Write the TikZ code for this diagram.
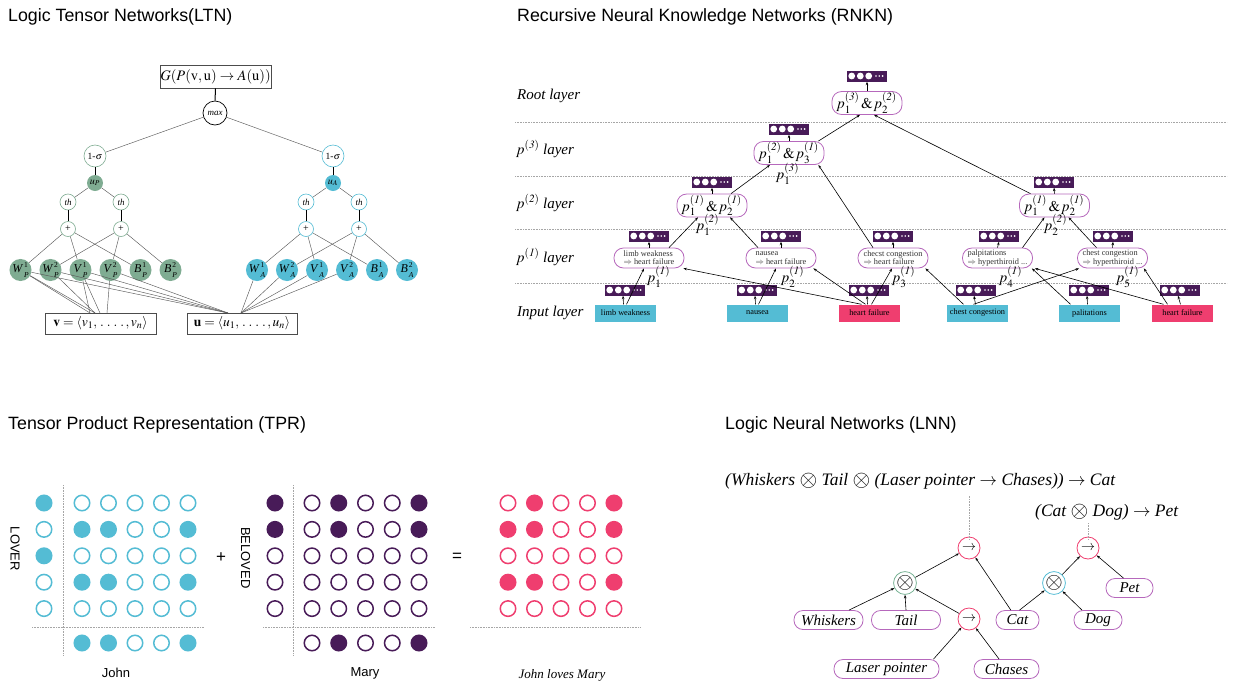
\documentclass[tikz,border=0pt]{standalone}
\usepackage{mathptmx}
\usepackage{fontspec}
\setmainfont{Liberation Serif}
\setsansfont{Liberation Sans}
\usetikzlibrary{arrows.meta,calc}
\definecolor{ltngreen}{RGB}{127,172,146}
\definecolor{ltnblue}{RGB}{84,188,212}
\definecolor{rpink}{RGB}{239,62,111}
\definecolor{dpurple}{RGB}{72,27,88}
\definecolor{lpurple}{RGB}{182,104,188}
\definecolor{wh}{RGB}{255,255,255}
\definecolor{lnngreen}{RGB}{120,178,148}
\newcommand{\myfs}[1]{\fontsize{#1}{#1}\selectfont}
\newcommand{\bigox}{\mathbin{\vcenter{\hbox{\scalebox{1.3}{$\otimes$}}}}}
\newcommand{\circox}{\vcenter{\hbox{\scalebox{1.6}{$\otimes$}}}}
\newcommand{\pp}[2]{\mathit{p}_{#1}^{\mathit{(#2)}}}
\newcommand{\wsym}[3]{\textit{#1}\kern0.8pt\rlap{\raisebox{5.5pt}{\myfs{7.5}#2}}\raisebox{-4.5pt}{\myfs{7.5}\textit{#3}}}
\begin{document}
\begin{tikzpicture}[x=1pt,y=-1pt,
  title/.style={font=\sffamily\myfs{17.8}, anchor=west, inner sep=0pt},
  arr/.style={-{Stealth[length=3.5pt,width=2.6pt]}, line width=0.6pt},
  grayln/.style={draw=black!65, line width=0.45pt},
  boldln/.style={draw=black, line width=1pt},
  sig/.style={circle, draw=#1, fill=white, line width=0.6pt, minimum size=22pt, inner sep=0pt, font=\myfs{9.5}},
  ufill/.style={circle, fill=#1, minimum size=16pt, inner sep=0pt, font=\myfs{10}},
  thnode/.style={circle, draw=#1, fill=white, line width=0.6pt, minimum size=16pt, inner sep=0pt, font=\myfs{9}\itshape},
  plnode/.style={circle, draw=#1, fill=white, line width=0.6pt, minimum size=15pt, inner sep=0pt, font=\myfs{10}},
  wnode/.style={circle, fill=#1, minimum size=22pt, inner sep=0pt, font=\myfs{12}},
  ltnbox/.style={draw=black!70, line width=0.6pt, fill=white, inner sep=0pt, minimum height=21pt},
  layer/.style={font=\myfs{15}\itshape, anchor=west, inner sep=0pt},
  dotln/.style={draw=black!35, densely dotted, line width=0.6pt},
  inbox/.style={fill=#1, minimum width=61pt, minimum height=17pt, inner sep=0pt, font=\myfs{8.3}},
  vecbox/.style={fill=dpurple, minimum width=40pt, minimum height=11pt, inner sep=0pt,
    path picture={
      \foreach \dx in {4.7,13.3,21.7} \fill[white] ([xshift=\dx pt]path picture bounding box.west) circle (3.4pt);
      \foreach \dx in {29,32.3,35.6} \fill[white] ([xshift=\dx pt]path picture bounding box.west) circle (0.9pt);
    }},
  rbox/.style={draw=lpurple, line width=0.8pt, rounded corners=9.5pt, fill=white, minimum width=70pt, minimum height=20pt, inner sep=1pt},
  small/.style={font=\myfs{8.3}, align=left, text=black!80, inner sep=0.5pt},
  plab/.style={font=\myfs{15}, inner sep=0pt},
  cell/.style 2 args={circle, draw=#1, fill=#2, line width=1.5pt, minimum size=15.5pt, inner sep=0pt},
  opn/.style={circle, draw=#1, line width=0.8pt, minimum size=22pt, inner sep=0pt, font=\myfs{14}},
  lbox/.style={draw=lpurple, line width=0.8pt, rounded corners=9pt, minimum height=19pt, inner sep=1pt, font=\myfs{15}\itshape},
]
\useasboundingbox (0,0) rectangle (1235,686);

% ================= titles =================
\node[title] (t1) at (8,17) {Logic Tensor Networks(LTN)};
\node[title] (t2) at (517,17) {Recursive Neural Knowledge Networks (RNKN)};
\node[title] (t3) at (8,425) {Tensor Product Representation (TPR)};
\node[title] (t4) at (725,425) {Logic Neural Networks (LNN)};

% ================= LTN =================
\node[ltnbox, minimum width=111pt, minimum height=23pt, font=\myfs{14.5}] (G) at (215.5,76.5) {$\mathit{G}(\mathit{P}(\mathrm{v,u}) \rightarrow \mathit{A}(\mathrm{u}))$};
\node[circle, draw, line width=0.7pt, minimum size=24pt, inner sep=0pt, font=\myfs{9}\itshape] (max) at (215,113) {max};
\draw[boldln] (G) -- (max);
\node[sig=ltngreen] (sP) at (95,156) {1-$\sigma$};
\node[sig=ltnblue] (sA) at (333,156) {1-$\sigma$};
\draw[grayln] (max) -- (sP);
\draw[grayln] (max) -- (sA);
\node[ufill=ltngreen] (uP) at (95,183) {$\mathit{u}_{\mathit{P}}$};
\node[ufill=ltnblue] (uA) at (333,183) {$\mathit{u}_{\mathit{A}}$};
\draw[boldln] (sP) -- (uP);
\draw[boldln] (sA) -- (uA);
\node[thnode=ltngreen] (thP1) at (68,202) {th};
\node[thnode=ltngreen] (thP2) at (121,202) {th};
\node[thnode=ltnblue] (thA1) at (306,202) {th};
\node[thnode=ltnblue] (thA2) at (359,202) {th};
\draw[grayln] (uP) -- (thP1); \draw[grayln] (uP) -- (thP2);
\draw[grayln] (uA) -- (thA1); \draw[grayln] (uA) -- (thA2);
\node[plnode=ltngreen] (plP1) at (68,229) {+};
\node[plnode=ltngreen] (plP2) at (121,229) {+};
\node[plnode=ltnblue] (plA1) at (306,229) {+};
\node[plnode=ltnblue] (plA2) at (359,229) {+};
\draw[boldln] (thP1) -- (plP1); \draw[boldln] (thP2) -- (plP2);
\draw[boldln] (thA1) -- (plA1); \draw[boldln] (thA2) -- (plA2);
\node[wnode=ltngreen] (WP1) at (20.5,270) {\wsym{W}{1}{P}};
\node[wnode=ltngreen] (WP2) at (50.5,270) {\wsym{W}{2}{P}};
\node[wnode=ltngreen] (VP1) at (80.5,270) {\wsym{V}{1}{P}};
\node[wnode=ltngreen] (VP2) at (110.5,270) {\wsym{V}{2}{P}};
\node[wnode=ltngreen] (BP1) at (140.5,270) {\wsym{B}{1}{P}};
\node[wnode=ltngreen] (BP2) at (170.5,270) {\wsym{B}{2}{P}};
\node[wnode=ltnblue] (WA1) at (257,270) {\wsym{W}{1}{A}};
\node[wnode=ltnblue] (WA2) at (287,270) {\wsym{W}{2}{A}};
\node[wnode=ltnblue] (VA1) at (317,270) {\wsym{V}{1}{A}};
\node[wnode=ltnblue] (VA2) at (347,270) {\wsym{V}{2}{A}};
\node[wnode=ltnblue] (BA1) at (377,270) {\wsym{B}{1}{A}};
\node[wnode=ltnblue] (BA2) at (407,270) {\wsym{B}{2}{A}};
\foreach \a/\b in {plP1/WP1,plP1/VP1,plP1/BP1,plP2/WP2,plP2/VP2,plP2/BP2,
                   plA1/WA1,plA1/VA1,plA1/BA1,plA2/WA2,plA2/VA2,plA2/BA2}
  \draw[grayln] (\a) -- (\b);
\node[ltnbox, minimum width=111pt, font=\myfs{13.5}] (vbox) at (100.5,323.5) {$\mathbf{v} = \langle \mathit{v}_{1},\, .\; .\; .\; .\,, \mathit{v}_{\mathit{n}}\rangle$};
\node[ltnbox, minimum width=110pt, font=\myfs{13.5}] (ubox) at (242,323.5) {$\mathbf{u} = \langle \mathit{u}_{1},\, .\; .\; .\; .\,, \mathit{u}_{\mathit{n}}\rangle$};
\coordinate (vA) at (90,313);
\coordinate (vB) at (95,313);
\coordinate (vC) at (100,313);
\coordinate (vD) at (107,313);
\coordinate (uPc) at (228,313);
\coordinate (uAc) at (241,313);
\draw[grayln] (WP1) -- (vA); \draw[grayln] (WP2) -- (vB);
\draw[grayln] (VP1) -- (vC); \draw[grayln] (VP2) -- (vD);
\draw[grayln] (WP1) -- (vB); \draw[grayln] (VP1) -- (vA);
\foreach \n in {WP1,WP2,VP1,VP2} \draw[grayln] (\n) -- (uPc);
\foreach \n in {WA1,WA2,VA1,VA2} \draw[grayln] (\n) -- (uAc);

% ================= RNKN =================
\node[layer] (Lr) at (517,96) {Root layer};
\node[layer] (L3) at (517,149) {$\mathit{p}^{\mathit{(3)}}$ layer};
\node[layer] (L2) at (517,203) {$\mathit{p}^{\mathit{(2)}}$ layer};
\node[layer] (L1) at (517,257) {$\mathit{p}^{\mathit{(1)}}$ layer};
\node[layer] (L0) at (517,313) {Input layer};
\foreach \yy in {122,176,229.5,283.5} \draw[dotln] (515,\yy) -- (1227,\yy);

% inputs
\node[inbox=ltnblue] (i1) at (625.5,313) {limb weakness};
\node[inbox=ltnblue] (i2) at (757.5,313) {nausea};
\node[inbox=rpink]   (i3) at (869.5,313) {heart failure};
\node[inbox=ltnblue] (i4) at (977.5,313) {chest congestion};
\node[inbox=ltnblue] (i5) at (1089.5,313) {palitations};
\node[inbox=rpink]   (i6) at (1182.5,313) {heart failure};
\node[vecbox] (iv1) at (625,290) {};
\node[vecbox] (iv2) at (757,290) {};
\node[vecbox] (iv3) at (869,290) {};
\node[vecbox] (iv4) at (976,290) {};
\node[vecbox] (iv5) at (1089,290) {};
\node[vecbox] (iv6) at (1180,290) {};
\foreach \k in {1,...,6} \draw[arr] ([xshift=-2pt]i\k.north) -- ([xshift=-2pt]iv\k.south);

% p1 layer
\node[rbox, small] (e1) at (649,258) {limb weakness\\$\Rightarrow$ heart failure};
\node[rbox, small] (e2) at (781,258) {nausea\\$\Rightarrow$ heart failure};
\node[rbox, small] (e3) at (893,258) {checst congestion\\$\Rightarrow$ heart failure};
\node[rbox, small] (e4) at (997.5,258) {palpitations\\$\Rightarrow$ hyperthiroid ...};
\node[rbox, small] (e5) at (1112.5,258) {chest congestion\\$\Rightarrow$ hyperthiroid ...};
\node[vecbox] (ev1) at (649,236) {};
\node[vecbox] (ev2) at (781,236) {};
\node[vecbox] (ev3) at (893,236) {};
\node[vecbox] (ev4) at (999,236) {};
\node[vecbox] (ev5) at (1113,236) {};
\foreach \k in {1,...,5} \draw[arr] (e\k.north) -- (ev\k.south);
\node[plab] (pl1) at (659,277) {$\pp{1}{1}$};
\node[plab] (pl2) at (793,277) {$\pp{2}{1}$};
\node[plab] (pl3) at (904,277) {$\pp{3}{1}$};
\node[plab] (pl4) at (1011,277) {$\pp{4}{1}$};
\node[plab] (pl5) at (1128,277) {$\pp{5}{1}$};
\draw[arr] ([xshift=1pt]i1.north) -- ([xshift=-5pt]e1.south);
\draw[arr] ([xshift=-8pt]i3.north) -- ([xshift=-1pt]e1.south east);
\draw[arr] ([xshift=1pt]i2.north) -- ([xshift=-5pt]e2.south);
\draw[arr] ([xshift=-4pt]i3.north) -- ([xshift=-3pt]e2.south east);
\draw[arr] ([xshift=2pt]i3.north) -- ([xshift=-1pt]e3.south);
\draw[arr] ([xshift=-14pt]i4.north) -- ([xshift=-3pt]e3.south east);
\draw[arr] ([xshift=-4pt]i4.north) -- ([xshift=2pt]e5.south west);
\draw[arr] ([xshift=-19pt]i5.north) -- ([xshift=-1pt]e4.south east);
\draw[arr] ([xshift=-19pt]i6.north) -- ([xshift=2pt]e4.south east);
\draw[arr] ([xshift=-15pt]i6.north) -- ([xshift=-4pt]e5.south east);

% p2 layer
\node[rbox, font=\myfs{15}, minimum height=21pt] (f1) at (712,205.5) {$\pp{1}{1} \,\&\, \pp{2}{1}$};
\node[rbox, font=\myfs{15}, minimum height=21pt] (f2) at (1054.5,205.5) {$\pp{1}{1} \,\&\, \pp{2}{1}$};
\node[vecbox] (fv1) at (712,182) {};
\node[vecbox] (fv2) at (1054,182) {};
\draw[arr] (f1.north) -- (fv1.south);
\draw[arr] (f2.north) -- (fv2.south);
\node[plab] (ql1) at (708,225) {$\pp{1}{2}$};
\node[plab] (ql2) at (1056,225) {$\pp{2}{2}$};
\draw[arr] ([xshift=20pt]e1.north) -- ([xshift=-14pt]f1.south);
\draw[arr] ([xshift=-23pt]e2.north) -- ([xshift=18pt]f1.south);
\draw[arr] ([xshift=25pt]e4.north) -- ([xshift=-10pt]f2.south);
\draw[arr] ([xshift=-16pt]e5.north) -- ([xshift=14pt]f2.south);

% p3 layer
\node[rbox, font=\myfs{15}] (g1) at (789,153) {$\pp{1}{2} \,\&\, \pp{3}{1}$};
\node[vecbox] (gv1) at (789,129) {};
\draw[arr] (g1.north) -- (gv1.south);
\node[plab] (rl1) at (788,174) {$\pp{1}{3}$};
\draw[arr] ([xshift=19pt]f1.north) -- ([xshift=-19pt]g1.south);
\draw[arr] ([xshift=-20pt]e3.north) -- ([xshift=-6pt]g1.south east);

% root
\node[rbox, font=\myfs{15}] (h1) at (867,103) {$\pp{1}{3} \,\&\, \pp{2}{2}$};
\node[vecbox] (hv1) at (867,76) {};
\draw[arr] (h1.north) -- (hv1.south);
\draw[arr] ([xshift=-6pt]g1.north east) -- ([xshift=-7pt]h1.south);
\draw[arr] ([xshift=-24pt]f2.north) -- ([xshift=7pt]h1.south);

% ================= TPR =================
% John
\foreach \r/\a/\b/\c/\d/\e in {1/wh/wh/wh/wh/wh, 2/ltnblue/ltnblue/wh/wh/ltnblue, 3/wh/wh/wh/wh/wh, 4/ltnblue/ltnblue/wh/wh/ltnblue, 5/wh/wh/wh/wh/wh}{
  \foreach \k/\f in {1/\a,2/\b,3/\c,4/\d,5/\e}{
    \node[cell={ltnblue}{\f}] (J\r\k) at ({82+(\k-1)*26.5},{503+(\r-1)*26.4}) {};
  }
}
\foreach \r/\f in {1/ltnblue,2/wh,3/ltnblue,4/wh,5/wh}
  \node[cell={ltnblue}{\f}] (JL\r) at (44,{503+(\r-1)*26.4}) {};
\foreach \k/\f in {1/ltnblue,2/ltnblue,3/wh,4/wh,5/ltnblue}
  \node[cell={ltnblue}{\f}] (JB\k) at ({82+(\k-1)*26.5},643) {};
\draw[dotln] (63,485) -- (63,655);
\draw[dotln] (32,627) -- (204,627);
\node[font=\sffamily\myfs{13}, rotate=-90] (lover) at (15,549) {LOVER};
\node[font=\sffamily\myfs{13}] (john) at (116,673) {John};
\node[font=\sffamily\myfs{17}] (plus) at (221,558) {+};

% Mary
\foreach \r/\a/\b/\c/\d/\e in {1/wh/dpurple/wh/wh/dpurple, 2/wh/dpurple/wh/wh/dpurple, 3/wh/wh/wh/wh/wh, 4/wh/wh/wh/wh/wh, 5/wh/wh/wh/wh/wh}{
  \foreach \k/\f in {1/\a,2/\b,3/\c,4/\d,5/\e}{
    \node[cell={dpurple}{\f}] (M\r\k) at ({312+(\k-1)*26.75},{503+(\r-1)*26.4}) {};
  }
}
\foreach \r/\f in {1/dpurple,2/dpurple,3/wh,4/wh,5/wh}
  \node[cell={dpurple}{\f}] (ML\r) at (275,{503+(\r-1)*26.4}) {};
\foreach \k/\f in {1/wh,2/dpurple,3/wh,4/wh,5/dpurple}
  \node[cell={dpurple}{\f}] (MB\k) at ({312+(\k-1)*26.75},643) {};
\draw[dotln] (293,485) -- (293,655);
\draw[dotln] (263,627) -- (435,627);
\node[font=\sffamily\myfs{13}, rotate=-90] (beloved) at (245.5,558) {BELOVED};
\node[font=\sffamily\myfs{13}] (mary) at (365,673) {Mary};
\node[font=\sffamily\myfs{17}] (eq) at (457,557) {=};

% Result
\foreach \r/\a/\b/\c/\d/\e in {1/wh/rpink/wh/wh/rpink, 2/rpink/rpink/wh/wh/rpink, 3/wh/wh/wh/wh/wh, 4/rpink/rpink/wh/wh/rpink, 5/wh/wh/wh/wh/wh}{
  \foreach \k/\f in {1/\a,2/\b,3/\c,4/\d,5/\e}{
    \node[cell={rpink}{\f}] (R\r\k) at ({508+(\k-1)*26.5},{503+(\r-1)*26.4}) {};
  }
}
\draw[dotln] (470,627) -- (640,627);
\node[font=\myfs{13}\itshape] (jlm) at (562,675) {John loves Mary};

% ================= LNN =================
\node[font=\myfs{17.5}\itshape, anchor=west, inner sep=0pt] (F1) at (725,481) {(Whiskers $\bigox$ Tail $\bigox$ (Laser pointer $\rightarrow$ Chases)) $\rightarrow$ Cat};
\node[font=\myfs{17.5}\itshape, anchor=west, inner sep=0pt] (F2) at (1035,512) {(Cat $\bigox$ Dog) $\rightarrow$ Pet};
\node[opn=rpink] (a1) at (969,548) {$\rightarrow$};
\node[opn=rpink] (a2) at (1088,548) {$\rightarrow$};
\node[opn=lnngreen] (o1) at (905,583) {$\circox$};
\node[opn=ltnblue] (o2) at (1054,583) {$\circox$};
\node[opn=rpink] (a3) at (969,619) {$\rightarrow$};
\node[lbox, minimum width=69pt] (wh1) at (828.5,620) {Whiskers};
\node[lbox, minimum width=69pt] (tail) at (906,620) {Tail};
\node[lbox, minimum width=43pt] (cat) at (1017.5,620) {Cat};
\node[lbox, minimum width=48pt] (dog) at (1098,620) {Dog};
\node[lbox, minimum width=47pt] (pet) at (1129.5,588) {Pet};
\node[lbox, minimum width=105pt] (laser) at (886.5,669) {Laser pointer};
\node[lbox, minimum width=65pt] (chases) at (1006.5,669) {Chases};
\draw[dotln] ([yshift=-3pt]a1.north) -- ([yshift=-7pt]F1.south -| a1.north);
\draw[dotln] ([yshift=-3pt]a2.north) -- ([yshift=-2pt]F2.south -| a2.north);
\draw[arr] (wh1) -- (o1);
\draw[arr] (tail.north) -- (o1.south);
\draw[arr] (a3) -- (o1);
\draw[arr] (o1) -- (a1);
\draw[arr] (cat) -- (a1);
\draw[arr] ([xshift=2pt]cat.north) -- (o2);
\draw[arr] (o2) -- (a2);
\draw[arr] ([xshift=-6pt]pet.north) -- (a2);
\draw[arr] ([xshift=-16pt]dog.north) -- (o2);
\draw[arr] ([xshift=47pt]laser.north) -- (a3);
\draw[arr] (chases) -- (a3);
\end{tikzpicture}
\end{document}
